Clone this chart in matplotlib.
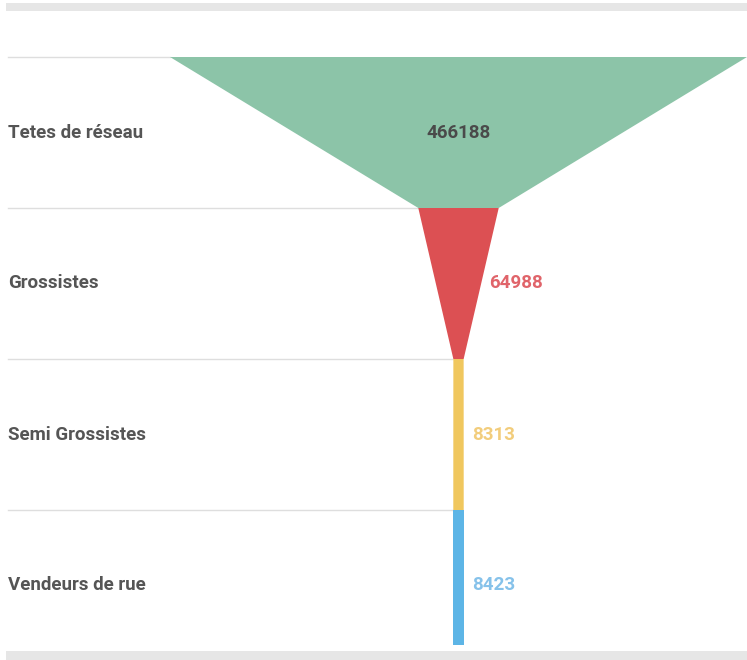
import matplotlib
matplotlib.use("Agg")
import matplotlib.pyplot as plt
from matplotlib.patches import Polygon, Rectangle

categories = ["Tetes de réseau", "Grossistes", "Semi Grossistes", "Vendeurs de rue"]
values = [466188, 64988, 8313, 8423]
colors = ["#8cc4a8", "#dc5053", "#f0c75e", "#5db5e6"]
label_colors = ["#4a4a4a", "#e0646a", "#f2cd7c", "#86c2ea"]

W, H = 747, 660
fig = plt.figure(figsize=(W / 100, H / 100), dpi=100)
ax = fig.add_axes([0, 0, 1, 1])

# pixel geometry
cx_px = 458.5
full_px = 577.0
top_px = 57.0
stage_px = 151.0
k = values[0] / full_px  # value units per pixel
ax.set_xlim(-cx_px * k, (W - cx_px) * k)
ax.set_ylim((H - top_px) / stage_px, -top_px / stage_px)
ax.axis("off")

FS = 13.5
n = len(values)
last_h = 0.893
for i, (v, c) in enumerate(zip(values, colors)):
    nxt = values[i + 1] if i < n - 1 else v
    h = 1.0 if i < n - 1 else last_h
    poly = Polygon([(-v / 2, i), (v / 2, i), (nxt / 2, i + h), (-nxt / 2, i + h)],
                   closed=True, facecolor=c, edgecolor="none", zorder=2)
    ax.add_patch(poly)
    # separator line from left margin to funnel's left edge
    ax.plot([-cx_px * k + 8 * k, -v / 2], [i, i], color="#dedede", lw=1.0, zorder=1)
    # category label
    ax.text(-cx_px * k + 8 * k, i + 0.5, categories[i], ha="left", va="center",
            fontsize=FS, fontfamily="Roboto", fontweight="bold", color="#555555")
    # value label
    if i == 0:
        ax.text(0, i + 0.5, str(v), ha="center", va="center", fontsize=FS,
                fontfamily="Roboto", fontweight="bold", color=label_colors[i], zorder=3)
    else:
        edge = (v + (nxt - v) * 0.5) / 2
        ax.text(edge + 8 * k, i + 0.5, str(v), ha="left", va="center", fontsize=FS,
                fontfamily="Roboto", fontweight="bold", color=label_colors[i], zorder=3)

# gray bands top and bottom
fig.patches.append(Rectangle((6 / W, 1 - 11 / H), 1, 8 / H, transform=fig.transFigure,
                             facecolor="#e6e6e6", edgecolor="none", zorder=0))
fig.patches.append(Rectangle((6 / W, 0), 1, 9 / H, transform=fig.transFigure,
                             facecolor="#e6e6e6", edgecolor="none", zorder=0))

fig.savefig("out.png", dpi=100, facecolor="white")
